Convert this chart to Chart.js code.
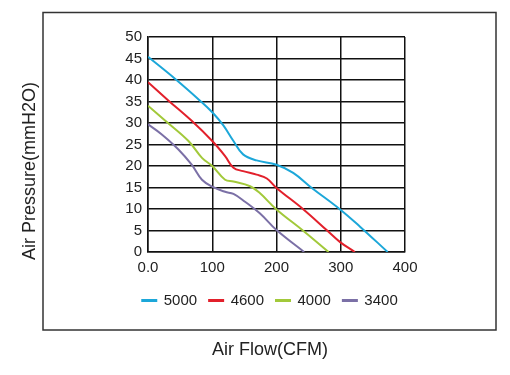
<!DOCTYPE html>
<html><head><meta charset="utf-8">
<script src="https://cdn.jsdelivr.net/npm/chart.js@4"></script>
<style>html,body{margin:0;padding:0;background:#fff}</style>
</head><body>
<canvas id="c" width="510" height="375"></canvas>
<script>
const seriesNames = ['5000', '4600', '4000', '3400'];
const flow5000 = [0, 42, 81, 100, 117, 133, 148, 169, 200, 226, 255, 299, 330, 373];
const pres5000 = [45.4, 40.3, 35.2, 32.5, 29.5, 25.8, 22.7, 21.3, 20.3, 18.4, 14.9, 9.9, 5.9, 0];
const flow4600 = [0, 32, 68, 100, 120, 133, 148, 169, 185, 200, 242, 278, 299, 322];
const pres4600 = [39.5, 35.2, 30.5, 25.8, 22.3, 19.6, 18.8, 18, 17.1, 14.9, 9.9, 5.1, 2.3, 0];
const flow4000 = [0, 27, 63, 84, 100, 120, 133, 159, 174, 200, 242, 281];
const pres4000 = [34, 30.5, 25.8, 21.9, 20, 16.8, 16.4, 15.3, 13.7, 9.9, 4.9, 0];
const flow3400 = [0, 21, 47, 68, 84, 100, 120, 133, 151, 174, 200, 243];
const pres3400 = [29.7, 27.4, 23.9, 20.3, 16.8, 15.2, 14, 13.5, 11.7, 9, 5.1, 0];
const xTickLabels = ['0.0', '100', '200', '300', '400'];
const yTickLabels = ['0', '5', '10', '15', '20', '25', '30', '35', '40', '45', '50'];
const xTitle = 'Air Flow(CFM)';
const yTitle = 'Air Pressure(mmH2O)';
const colors = ['#1ca7d9', '#e2202b', '#a2c93a', '#7b70a6'];

const flows = [flow5000, flow4600, flow4000, flow3400];
const pressures = [pres5000, pres4600, pres4000, pres3400];
const FONT = '"Liberation Sans", Arial, sans-serif';

const datasets = seriesNames.map((name, i) => ({
  label: name,
  data: flows[i].map((x, j) => ({x: x, y: pressures[i][j]})),
  borderColor: colors[i],
  backgroundColor: colors[i],
  borderWidth: 2,
  pointRadius: 0,
  fill: false,
  tension: 0.4
}));

const framePlugin = {
  id: 'frame',
  afterDraw(chart) {
    const ctx = chart.ctx;
    ctx.save();
    ctx.strokeStyle = '#333';
    ctx.lineWidth = 1.5;
    ctx.strokeRect(43, 12.5, 453, 317.5);
    ctx.translate(30, 171);
    ctx.rotate(-Math.PI / 2);
    ctx.fillStyle = '#222';
    ctx.font = '18px ' + FONT;
    ctx.textAlign = 'center';
    ctx.textBaseline = 'middle';
    ctx.fillText(yTitle, 0, 0);
    ctx.restore();
  }
};

new Chart(document.getElementById('c'), {
  type: 'line',
  data: {datasets: datasets},
  plugins: [framePlugin],
  options: {
    responsive: false,
    devicePixelRatio: 1,
    animation: false,
    layout: {padding: {left: 40, right: 10, top: 37, bottom: 10.4}},
    plugins: {
      tooltip: {enabled: false},
      legend: {
        position: 'bottom',
        labels: {
          boxWidth: 14,
          boxHeight: 1,
          padding: 12,
          color: '#222',
          font: {family: FONT, size: 15}
        }
      },
      title: {
        display: true,
        text: xTitle,
        position: 'bottom',
        color: '#222',
        font: {family: FONT, size: 18, weight: 'normal'},
        padding: {top: 21, bottom: 4}
      }
    },
    scales: {
      x: {
        type: 'linear',
        min: 0, max: 400,
        afterFit: s => { s.height = 29; },
        grid: {color: '#111', lineWidth: 1.5, drawTicks: false},
        border: {color: '#111', width: 1.5},
        ticks: {
          stepSize: 100,
          padding: 7,
          maxRotation: 0,
          autoSkip: false,
          color: '#222',
          font: {family: FONT, size: 15},
          callback: v => xTickLabels[Math.round(v / 100)]
        }
      },
      y: {
        type: 'linear',
        min: 0, max: 50,
        afterFit: s => { s.width = 108; },
        grid: {color: '#111', lineWidth: 1.5, drawTicks: false},
        border: {color: '#111', width: 1.5},
        ticks: {
          stepSize: 5,
          padding: 6,
          autoSkip: false,
          color: '#222',
          font: {family: FONT, size: 15},
          callback: v => yTickLabels[Math.round(v / 5)]
        }
      },
      spacer: {
        type: 'linear',
        position: 'right',
        min: 0, max: 50,
        afterFit: s => { s.width = 95; },
        grid: {display: false, drawTicks: false},
        border: {display: false},
        ticks: {display: false}
      }
    }
  }
});
</script>
</body></html>
